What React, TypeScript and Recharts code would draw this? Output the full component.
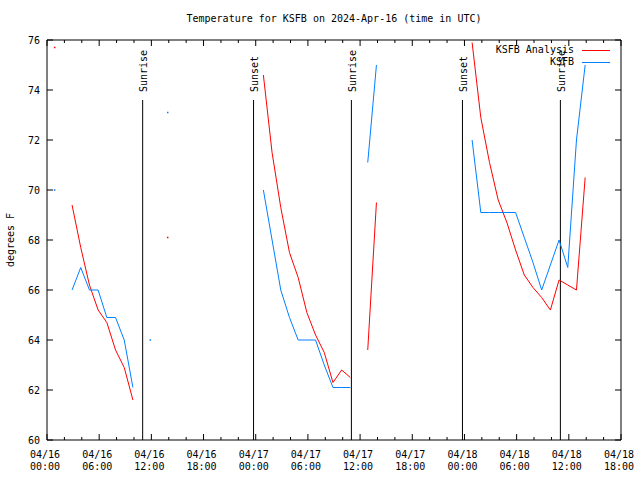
import React from "react";
import {
  LineChart,
  Line,
  XAxis,
  YAxis,
  ReferenceLine,
  Legend,
} from "recharts";

// hours since 04/16 00:00 UTC (obs at :53), null rows break the lines
const hours = [
  0.88, 1.88, 2.88, 3.88, 4.88, 5.88, 6.88, 7.88, 8.88, 9.88, 10.88, 11.88,
  12.88, 13.88, 14.88, 24.88, 25.88, 26.88, 27.88, 28.88, 29.88, 30.88, 31.88,
  32.88, 33.88, 34.88, 35.88, 36.88, 37.88, 38.88, 48.88, 49.88, 50.88, 51.88,
  52.88, 53.88, 54.88, 55.88, 56.88, 57.88, 58.88, 59.88, 60.88, 61.88,
];

const analysis = [
  75.7, null, 69.4, 67.7, 66.2, 65.2, 64.7, 63.6, 62.9, 61.6, null, null,
  null, 68.1, null, 74.6, 71.5, 69.3, 67.5, 66.5, 65.1, 64.2, 63.5, 62.3,
  62.8, 62.5, null, 63.6, 69.5, null, 75.9, 72.9, 71.1, 69.6, 68.7, 67.6,
  66.6, 66.1, 65.7, 65.2, 66.4, 66.2, 66.0, 70.5,
];

const observed = [
  70.0, null, 66.0, 66.9, 66.0, 66.0, 64.9, 64.9, 64.0, 62.1, null, 64.0,
  null, 73.1, null, 70.0, 68.0, 66.0, 64.9, 64.0, 64.0, 64.0, 63.0, 62.1,
  62.1, 62.1, null, 71.1, 75.0, null, 72.0, 69.1, 69.1, 69.1, 69.1, 69.1,
  68.1, 67.1, 66.0, 67.0, 68.0, 66.9, 72.0, 75.0,
];

const seriesNames = ["KSFB Analysis", "KSFB"];

const sunTimes = [11.0, 23.75, 35.0, 47.77, 59.03];
const sunLabels = ["Sunrise", "Sunset", "Sunrise", "Sunset", "Sunrise"];
const sunLineTop = 73.6;

const majorHours = [0, 6, 12, 18, 24, 30, 36, 42, 48, 54, 60, 66];
const minorHours = [
  2, 4, 8, 10, 14, 16, 20, 22, 26, 28, 32, 34, 38, 40, 44, 46, 50, 52, 56, 58,
  62, 64,
];
const dateLabels = [
  "04/16", "04/16", "04/16", "04/16", "04/17", "04/17",
  "04/17", "04/17", "04/18", "04/18", "04/18", "04/18",
];
const timeLabels = [
  "00:00", "06:00", "12:00", "18:00", "00:00", "06:00",
  "12:00", "18:00", "00:00", "06:00", "12:00", "18:00",
];
const yTicks = [60, 62, 64, 66, 68, 70, 72, 74, 76];

const FONT = "'DejaVu Sans Mono', 'Liberation Mono', monospace";
const RED = "#ff0000";
const BLUE = "#0080ff";

const data = hours.map((h, i) => ({
  hour: h,
  analysis: analysis[i],
  observed: observed[i],
}));

const xTicks = [...majorHours, ...minorHours].sort((a, b) => a - b);

// gnuplot style: ticks point inward, labels only on the 6-hour marks
const BottomTick = (props: any) => {
  const { x, y, payload } = props;
  const i = majorHours.indexOf(payload.value);
  const len = i >= 0 ? 6 : 3;
  return (
    <g>
      <line x1={x} x2={x} y1={y} y2={y - len} stroke="#000" />
      {i >= 0 && (
        <text x={x - 2} y={y + 18} textAnchor="middle" fontSize={10} fontFamily={FONT} fill="#000">
          <tspan x={x - 2}>{dateLabels[i]}</tspan>
          <tspan x={x - 2} dy={11.5}>{timeLabels[i]}</tspan>
        </text>
      )}
    </g>
  );
};

const TopTick = (props: any) => {
  const { x, y, payload } = props;
  const len = majorHours.includes(payload.value) ? 6 : 3;
  return <line x1={x} x2={x} y1={y} y2={y + len} stroke="#000" />;
};

const LeftTick = (props: any) => {
  const { x, y, payload } = props;
  return (
    <g>
      <line x1={x} x2={x + 6} y1={y} y2={y} stroke="#000" />
      <text x={x - 7} y={y + 3.5} textAnchor="end" fontSize={10} fontFamily={FONT} fill="#000">
        {payload.value}
      </text>
    </g>
  );
};

const RightTick = (props: any) => {
  const { x, y } = props;
  return <line x1={x} x2={x - 6} y1={y} y2={y} stroke="#000" />;
};

// only isolated samples get a dot, like gnuplot's single-point segments
const makeDot = (values: (number | null)[], color: string) => (props: any) => {
  const { cx, cy, index } = props;
  const v = values[index];
  const prev = index > 0 ? values[index - 1] : null;
  const next = index < values.length - 1 ? values[index + 1] : null;
  if (v == null || prev != null || next != null || cx == null || cy == null) {
    return <g key={`d${index}`} />;
  }
  return <rect key={`d${index}`} x={cx - 0.75} y={cy - 0.75} width={1.5} height={1.5} fill={color} />;
};

const SunLabel = (text: string) => (props: any) => {
  const { viewBox } = props;
  const x = viewBox.x + 1;
  const y = viewBox.y - 8;
  return (
    <text
      x={x}
      y={y}
      transform={`rotate(-90 ${x} ${y})`}
      textAnchor="start"
      dominantBaseline="central"
      fontSize={10}
      fontFamily={FONT}
      fill="#000"
    >
      {text}
    </text>
  );
};

const renderLegend = (props: any) => {
  const items = [...(props.payload || [])].sort(
    (a: any, b: any) => seriesNames.indexOf(a.value) - seriesNames.indexOf(b.value)
  );
  return (
    <div style={{ fontFamily: FONT, fontSize: 10 }}>
      {items.map((entry: any) => (
        <div
          key={entry.value}
          style={{ display: "flex", justifyContent: "flex-end", alignItems: "center", height: 12 }}
        >
          <span style={{ lineHeight: "12px" }}>{entry.value}</span>
          <span style={{ width: 28, height: 0, borderTop: `1px solid ${entry.color}`, marginLeft: 8 }} />
        </div>
      ))}
    </div>
  );
};

export default function App() {
  return (
    <div style={{ position: "absolute", left: 0, top: 0, width: 640, height: 480, background: "#fff" }}>
      <div
        style={{
          position: "absolute",
          left: 47,
          width: 574,
          top: 13,
          textAlign: "center",
          fontFamily: FONT,
          fontSize: 10,
          lineHeight: "12px",
        }}
      >
        Temperature for KSFB on 2024-Apr-16 (time in UTC)
      </div>
      <LineChart
        width={640}
        height={480}
        data={data}
        margin={{ top: 0, right: 0, bottom: 0, left: 0 }}
        style={{ fontFamily: FONT }}
      >
        <XAxis
          xAxisId="bottom"
          dataKey="hour"
          type="number"
          domain={[0, 66]}
          allowDataOverflow
          ticks={xTicks}
          interval={0}
          height={40}
          tickSize={0}
          tickMargin={0}
          tickLine={false}
          tick={BottomTick}
          axisLine={{ stroke: "#000" }}
        />
        <XAxis
          xAxisId="top"
          orientation="top"
          dataKey="hour"
          type="number"
          domain={[0, 66]}
          allowDataOverflow
          ticks={xTicks}
          interval={0}
          height={40}
          tickSize={0}
          tickMargin={0}
          tickLine={false}
          tick={TopTick}
          axisLine={{ stroke: "#000" }}
        />
        <YAxis
          yAxisId="left"
          type="number"
          domain={[60, 76]}
          allowDataOverflow
          ticks={yTicks}
          interval={0}
          width={47}
          tickSize={0}
          tickMargin={0}
          tickLine={false}
          tick={LeftTick}
          axisLine={{ stroke: "#000" }}
          label={{
            content: () => (
              <text
                x={10}
                y={240}
                transform="rotate(-90 10 240)"
                textAnchor="middle"
                dominantBaseline="central"
                fontSize={10}
                fontFamily={FONT}
                fill="#000"
              >
                degrees F
              </text>
            ),
          }}
        />
        <YAxis
          yAxisId="right"
          orientation="right"
          type="number"
          domain={[60, 76]}
          allowDataOverflow
          ticks={yTicks}
          interval={0}
          width={19}
          tickSize={0}
          tickMargin={0}
          tickLine={false}
          tick={RightTick}
          axisLine={{ stroke: "#000" }}
        />
        {sunTimes.map((t, i) => (
          <ReferenceLine
            key={`sun${i}`}
            xAxisId="bottom"
            yAxisId="left"
            segment={[
              { x: t, y: sunLineTop },
              { x: t, y: 60 },
            ]}
            stroke="#000"
            strokeWidth={1}
            label={{ content: SunLabel(sunLabels[i]) }}
          />
        ))}
        <Line
          xAxisId="bottom"
          yAxisId="left"
          type="linear"
          dataKey="analysis"
          name={seriesNames[0]}
          stroke={RED}
          strokeWidth={1}
          dot={makeDot(analysis, RED)}
          activeDot={false}
          isAnimationActive={false}
        />
        <Line
          xAxisId="bottom"
          yAxisId="left"
          type="linear"
          dataKey="observed"
          name={seriesNames[1]}
          stroke={BLUE}
          strokeWidth={1}
          dot={makeDot(observed, BLUE)}
          activeDot={false}
          isAnimationActive={false}
        />
        <Legend
          content={renderLegend}
          layout="vertical"
          align="center"
          verticalAlign="middle"
          wrapperStyle={{ left: 490, top: 44, width: 120 }}
        />
      </LineChart>
    </div>
  );
}
